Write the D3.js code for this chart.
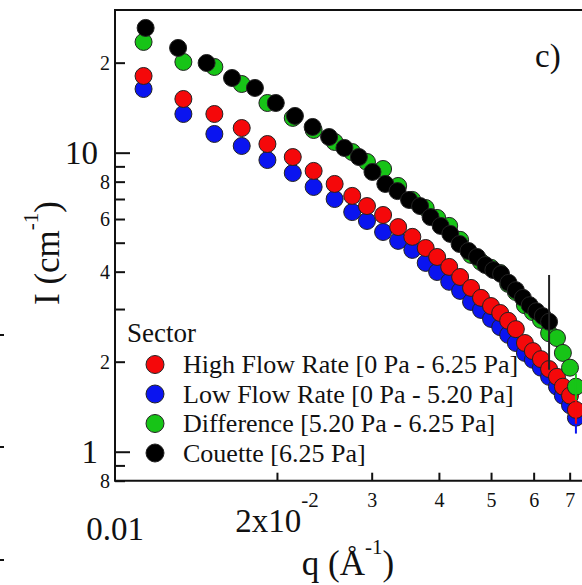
<!DOCTYPE html>
<html>
<head>
<meta charset="utf-8">
<script src="https://cdn.jsdelivr.net/npm/d3@7"></script>
<style>
  body { margin: 0; background: #fff; }
  svg { display: block; }
  text { font-family: "Liberation Serif", "Times New Roman", serif; fill: #111; }
</style>
</head>
<body>
<svg id="chart" width="582" height="585"></svg>
<script>
// Scattering vector q (1/Å) for the three sector curves
const qSector = [0.0113, 0.0134, 0.0153, 0.0172, 0.0192, 0.0214, 0.0234, 0.0256, 0.0276, 0.0294,
                 0.0315, 0.0336, 0.0357, 0.0378, 0.0397, 0.0418, 0.0438, 0.0459, 0.0479, 0.0500,
                 0.0520, 0.0538, 0.0556, 0.0578, 0.0598, 0.0619, 0.0641, 0.0663, 0.0680, 0.0701, 0.0719];
// Intensity I (1/cm), high flow rate sector
const iHigh = [18.05, 15.12, 13.47, 12.09, 10.69, 9.67, 8.69, 7.86, 7.17, 6.63,
               6.19, 5.64, 5.23, 4.80, 4.48, 4.15, 3.84, 3.53, 3.27, 3.07,
               2.91, 2.74, 2.57, 2.31, 2.17, 2.04, 1.89, 1.78, 1.65, 1.54, 1.38];
// Intensity I (1/cm), low flow rate sector
const iLow = [16.33, 13.47, 11.55, 10.53, 9.45, 8.55, 7.68, 7.00, 6.33, 5.91,
              5.43, 5.07, 4.73, 4.28, 3.99, 3.70, 3.45, 3.17, 2.98, 2.78,
              2.61, 2.46, 2.31, 2.14, 2.03, 1.91, 1.78, 1.65, 1.54, 1.43, 1.30];
// Intensity I (1/cm), difference sector
const iDiff = [23.46, 20.11, 19.35, 16.97, 14.66, 13.07, 11.91, 10.86, 10.05, 9.31,
               8.82, 7.74, 6.95, 6.53, 6.05, 5.69, 5.11, 4.55, 4.31, 4.12,
               3.96, 3.64, 3.42, 3.09, 2.93, 2.76, 2.49, 2.40, 2.14, 1.91, 1.65];
// Couette cell measurement
const qCouette = [0.0114, 0.0131, 0.0148, 0.0165, 0.0182, 0.0199, 0.0216, 0.0233, 0.0250, 0.0267,
                  0.0284, 0.0301, 0.0318, 0.0335, 0.0352, 0.0369, 0.0386, 0.0403, 0.0420, 0.0437,
                  0.0454, 0.0471, 0.0488, 0.0505, 0.0522, 0.0539, 0.0556, 0.0573, 0.0590, 0.0607,
                  0.0624, 0.0641];
const iCouette = [26.13, 22.40, 19.95, 17.77, 16.46, 14.66, 13.27, 12.19, 11.28, 10.37,
                  9.67, 8.62, 7.86, 7.44, 6.95, 6.63, 6.09, 5.69, 5.35, 4.95,
                  4.69, 4.48, 4.21, 4.05, 3.93, 3.67, 3.47, 3.27, 3.09, 2.95,
                  2.84, 2.72];
// Error bars that reach beyond their markers
const errorBars = [
  { key: "low",     q: 0.0719, lo: 1.15, hi: 1.45 },
  { key: "high",    q: 0.0719, lo: 1.24, hi: 1.53 },
  { key: "diff",    q: 0.0719, lo: 1.49, hi: 1.82 },
  { key: "couette", q: 0.0641, lo: 1.88, hi: 3.90 }
];

// Axis ticks
const yMajorTicks = [1, 10];
const yMinorTicks = [0.8, 0.9, 2, 3, 4, 5, 6, 7, 8, 9, 20];
const yMinorLabels = { 0.8: "8", 2: "2", 4: "4", 6: "6", 8: "8", 20: "2" };
const xMinorTicks = [0.02, 0.03, 0.04, 0.05, 0.06, 0.07, 0.08, 0.09];
const xMinorLabels = { 0.03: "3", 0.04: "4", 0.05: "5", 0.06: "6", 0.07: "7" };

const series = [
  { key: "low",     label: "Low Flow Rate [0 Pa - 5.20 Pa]",      color: "#0a14f0", q: qSector,  v: iLow },
  { key: "high",    label: "High Flow Rate [0 Pa - 6.25 Pa]",     color: "#f5080a", q: qSector,  v: iHigh },
  { key: "diff",    label: "Difference [5.20 Pa - 6.25 Pa]",      color: "#17c417", q: qSector,  v: iDiff },
  { key: "couette", label: "Couette [6.25 Pa]",                   color: "#000000", q: qCouette, v: iCouette }
];
const legendOrder = ["high", "low", "diff", "couette"];

const svg = d3.select("#chart");
const x = d3.scaleLog().domain([0.01, 0.1]).range([115, 653]);
const y = d3.scaleLog().domain([0.8, 30]).range([480.7, 10]);
const ink = "#111";

// Frame: left, bottom and top edges
const [x0, x1] = x.range();
const [yb, yt] = y.range();
svg.append("path")
  .attr("d", `M${x1},${yt}H${x0}V${yb}H${x1}`)
  .attr("fill", "none").attr("stroke", ink).attr("stroke-width", 2);

// Y axis: major ticks (decades) and minor ticks
const yMajor = svg.append("g").attr("transform", `translate(${x0},0)`)
  .call(d3.axisLeft(y).tickValues(yMajorTicks).tickFormat(d3.format("d"))
    .tickSizeInner(-15).tickSizeOuter(0).tickPadding(17));
const yMinor = svg.append("g").attr("transform", `translate(${x0},0)`)
  .call(d3.axisLeft(y).tickValues(yMinorTicks).tickFormat(d => yMinorLabels[d] || "")
    .tickSizeInner(-10).tickSizeOuter(0).tickPadding(5));
[yMajor, yMinor].forEach(g => {
  g.select(".domain").remove();
  g.selectAll("line").attr("stroke", ink).attr("stroke-width", 2);
  g.selectAll("text").attr("fill", ink).style("font-family", "Liberation Serif");
});
yMajor.selectAll("text").style("font-size", "33px");
yMinor.selectAll("text").style("font-size", "20px");

// X axis: minor ticks with single digit labels
const xAxis = svg.append("g").attr("transform", `translate(0,${yb})`)
  .call(d3.axisBottom(x).tickValues(xMinorTicks).tickFormat(d => xMinorLabels[d] || "")
    .tickSizeInner(-8).tickSizeOuter(0).tickPadding(12));
xAxis.select(".domain").remove();
xAxis.selectAll("line").attr("stroke", ink).attr("stroke-width", 2);
xAxis.selectAll("text").attr("fill", ink).style("font-size", "20px").style("font-family", "Liberation Serif");

// Larger x labels at 0.01 and 2x10^-2
svg.append("text").attr("x", x(0.01)).attr("y", 540)
  .attr("text-anchor", "middle").style("font-size", "33px").text("0.01");
const lab2 = svg.append("text").attr("x", x(0.02)).attr("y", 532)
  .attr("text-anchor", "middle").style("font-size", "33px");
lab2.append("tspan").text("2x10");
lab2.append("tspan").attr("dy", -25).style("font-size", "21px").text("-2");

// Axis titles
const xt = svg.append("text").attr("x", 348).attr("y", 575)
  .attr("text-anchor", "middle").style("font-size", "35px");
xt.append("tspan").text("q (Å");
xt.append("tspan").attr("dy", -21).style("font-size", "21px").text("-1");
xt.append("tspan").attr("dy", 21).text(")");

const yt2 = svg.append("text").attr("transform", "translate(59,253) rotate(-90)")
  .attr("text-anchor", "middle").style("font-size", "35px");
yt2.append("tspan").text("I (cm");
yt2.append("tspan").attr("dy", -21).style("font-size", "21px").text("-1");
yt2.append("tspan").attr("dy", 21).text(")");

// Panel letter
svg.append("text").attr("x", 535).attr("y", 67).style("font-size", "33px").text("c)");

// Edge ticks of the neighbouring panel
svg.append("g").selectAll("line").data([335, 447, 560]).join("line")
  .attr("x1", 0).attr("x2", 4).attr("y1", d => d).attr("y2", d => d)
  .attr("stroke", ink).attr("stroke-width", 2);

// Data markers, drawn low -> high -> difference -> couette
const R = 8.5;
series.forEach(s => {
  const g = svg.append("g").attr("class", "series-" + s.key);
  g.selectAll("circle").data(s.q.map((q, i) => ({ q, v: s.v[i] }))).join("circle")
    .attr("cx", d => x(d.q)).attr("cy", d => y(d.v)).attr("r", R)
    .attr("fill", s.color).attr("stroke", "#222").attr("stroke-width", 1);
  g.selectAll("line").data(errorBars.filter(e => e.key === s.key)).join("line")
    .attr("x1", d => x(d.q)).attr("x2", d => x(d.q))
    .attr("y1", d => y(d.lo)).attr("y2", d => y(d.hi))
    .attr("stroke", s.key === "couette" ? "#222" : s.color).attr("stroke-width", 2);
});

// Legend
const lg = svg.append("g");
lg.append("text").attr("x", 127).attr("y", 342).style("font-size", "27px").text("Sector");
legendOrder.forEach((k, i) => {
  const s = series.find(d => d.key === k);
  const cy = 364.5 + i * 29.5;
  lg.append("circle").attr("cx", 155).attr("cy", cy).attr("r", 9)
    .attr("fill", s.color).attr("stroke", "#222").attr("stroke-width", 1);
  lg.append("text").attr("x", 183).attr("y", cy + 8.5).style("font-size", "26px").text(s.label);
});
</script>
</body>
</html>
